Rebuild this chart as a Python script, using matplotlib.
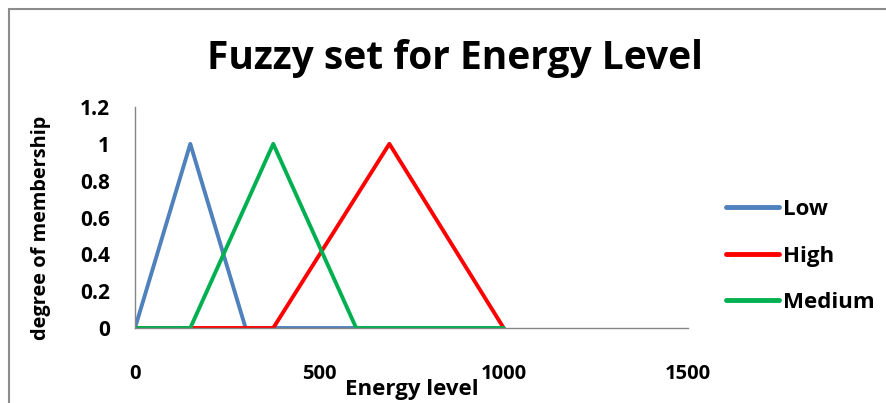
import matplotlib.pyplot as plt
from matplotlib.patches import Rectangle

# series data (energy level vs degree of membership)
low_x = [0, 150, 300, 1000]
low_y = [0, 1, 0, 0]
high_x = [0, 375, 690, 1000]
high_y = [0, 0, 1, 0]
medium_x = [0, 150, 375, 600, 1000]
medium_y = [0, 0, 1, 0, 0]

x_ticks = [0, 500, 1000, 1500]
y_ticks = [0, 0.2, 0.4, 0.6, 0.8, 1.0, 1.2]
y_labels = ["0", "0.2", "0.4", "0.6", "0.8", "1", "1.2"]

plt.rcParams['font.family'] = ['Open Sans', 'DejaVu Sans']

W, H = 887, 403
fig = plt.figure(figsize=(W / 100, H / 100), dpi=100)
ax = fig.add_axes([135 / W, 1 - 328 / H, (688 - 135) / W, (328 - 107) / H])

ax.plot(low_x, low_y, color="#4F81BD", lw=2.8, label="Low", solid_capstyle="round")
ax.plot(high_x, high_y, color="#FF0000", lw=2.8, label="High", solid_capstyle="round")
ax.plot(medium_x, medium_y, color="#00B050", lw=2.8, label="Medium", solid_capstyle="round")

ax.set_xlim(0, 1500)
ax.set_ylim(0, 1.2)
ax.set_xticks(x_ticks)
ax.set_xticklabels([str(t) for t in x_ticks], fontsize=14.5, fontweight="bold")
ax.set_yticks(y_ticks)
ax.set_yticklabels(y_labels, fontsize=15, fontweight="bold")
ax.tick_params(axis="both", length=0)
ax.tick_params(axis="x", pad=26)
ax.tick_params(axis="y", pad=18)

for side in ["top", "right"]:
    ax.spines[side].set_visible(False)
for side in ["left", "bottom"]:
    ax.spines[side].set_color("#868686")
    ax.spines[side].set_linewidth(1.0)

fig.text(455 / W, 1 - 69 / H, "Fuzzy set for Energy Level", fontsize=28,
         fontweight="bold", ha="center", va="baseline")
fig.text(412 / W, 1 - 395 / H, "Energy level", fontsize=16,
         fontweight="bold", ha="center", va="baseline")
fig.text(41 / W, 1 - 228 / H, "degree of membership", fontsize=14.4,
         fontweight="bold", ha="center", va="center", rotation=90)

leg = fig.legend(loc="upper left", bbox_to_anchor=(706 / W, 1 - 179 / H),
                 frameon=False, prop={"size": 16, "weight": "bold"},
                 handlelength=2.4, handletextpad=0.15, labelspacing=1.15)
for line in leg.get_lines():
    line.set_linewidth(3.5)

# chart area border
fig.patches.append(Rectangle((9 / W, -0.1), 1.0, 1 - 9 / H + 0.1,
                             transform=fig.transFigure, fill=False,
                             edgecolor="#8c8c8c", lw=1.5))

fig.savefig("out.png", dpi=100)
